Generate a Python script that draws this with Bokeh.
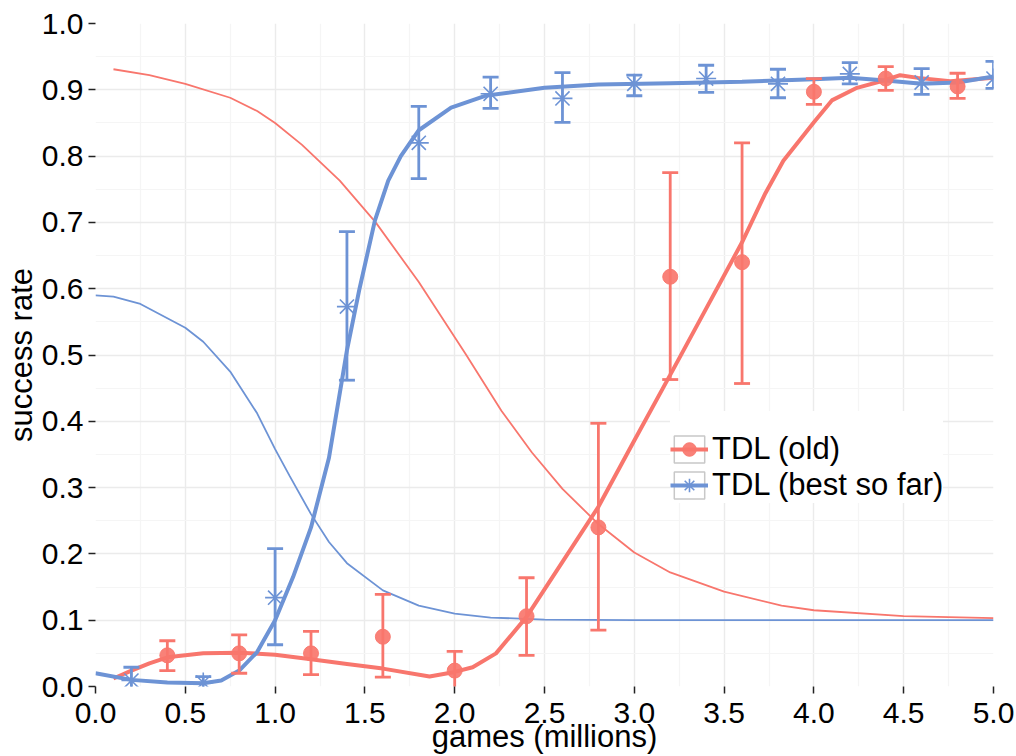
from bokeh.plotting import figure
from bokeh.models import FixedTicker, NumeralTickFormatter, Legend, LegendItem
from bokeh.embed import file_html
from bokeh.resources import INLINE

RED = "#F8766D"
BLUE = "#6D93D5"
FONT = "Liberation Sans"

# TDL (old): success rate per checkpoint with error bar ends
old_x = [0.4, 0.8, 1.2, 1.6, 2.0, 2.4, 2.8, 3.2, 3.6, 4.0, 4.4, 4.8]
old_y = [0.047, 0.050, 0.050, 0.075, 0.024, 0.106, 0.240, 0.618, 0.640, 0.897, 0.917, 0.905]
old_lo = [0.024, 0.020, 0.018, 0.014, -0.005, 0.047, 0.085, 0.463, 0.457, 0.878, 0.899, 0.887]
old_hi = [0.069, 0.078, 0.083, 0.139, 0.053, 0.164, 0.397, 0.775, 0.820, 0.917, 0.935, 0.925]

# TDL (best so far)
best_x = [0.2, 0.6, 1.0, 1.4, 1.8, 2.2, 2.6, 3.0, 3.4, 3.8, 4.2, 4.6, 5.0]
best_y = [0.009, 0.006, 0.134, 0.573, 0.820, 0.894, 0.887, 0.909, 0.917, 0.909, 0.924, 0.911, 0.917]
best_lo = [-0.012, -0.005, 0.063, 0.462, 0.766, 0.872, 0.851, 0.891, 0.896, 0.888, 0.909, 0.893, 0.902]
best_hi = [0.029, 0.015, 0.208, 0.686, 0.875, 0.919, 0.926, 0.922, 0.937, 0.931, 0.941, 0.932, 0.943]

# smoothed trends
old_smooth_x = [0.1, 0.2, 0.3, 0.4, 0.6, 0.8, 1.0, 1.2, 1.4, 1.6, 1.86, 2.0, 2.1, 2.23,
                2.4, 2.6, 2.8, 3.0, 3.2, 3.4, 3.6, 3.73, 3.83, 4.0, 4.1, 4.24, 4.39,
                4.48, 4.58, 4.76, 5.0]
old_smooth_y = [0.012, 0.024, 0.035, 0.044, 0.050, 0.051, 0.048, 0.041, 0.034, 0.027, 0.015,
                0.022, 0.029, 0.050, 0.105, 0.188, 0.271, 0.371, 0.470, 0.570, 0.670, 0.744,
                0.793, 0.851, 0.884, 0.903, 0.914, 0.922, 0.918, 0.913, 0.918]

best_smooth_x = [0.0, 0.2, 0.4, 0.6, 0.7, 0.8, 0.9, 1.0, 1.1, 1.2, 1.3, 1.4, 1.47, 1.556,
                 1.63, 1.7, 1.8, 1.98, 2.17, 2.5, 2.8, 3.2, 3.6, 4.0, 4.2, 4.4, 4.6, 4.8, 5.0]
best_smooth_y = [0.020, 0.010, 0.006, 0.005, 0.009, 0.024, 0.052, 0.100, 0.165, 0.240, 0.345,
                 0.507, 0.600, 0.703, 0.763, 0.800, 0.839, 0.873, 0.891, 0.903, 0.908, 0.910,
                 0.912, 0.916, 0.918, 0.914, 0.909, 0.911, 0.920]

# fitted reference curves (thin)
old_fit_x = [0.1, 0.3, 0.5, 0.75, 0.9, 1.0, 1.15, 1.36, 1.56, 1.8, 2.06, 2.26, 2.43, 2.6,
             2.8, 3.0, 3.2, 3.5, 3.82, 4.0, 4.5, 5.0]
old_fit_y = [0.931, 0.922, 0.909, 0.888, 0.868, 0.850, 0.817, 0.763, 0.700, 0.610, 0.502,
             0.416, 0.353, 0.298, 0.245, 0.202, 0.172, 0.143, 0.122, 0.115, 0.106, 0.103]

best_fit_x = [0.0, 0.1, 0.25, 0.5, 0.6, 0.75, 0.9, 1.0, 1.08, 1.2, 1.3, 1.4, 1.6, 1.8, 2.0,
              2.2, 2.5, 3.0, 4.0, 5.0]
best_fit_y = [0.590, 0.588, 0.577, 0.541, 0.520, 0.475, 0.412, 0.358, 0.318, 0.260, 0.218,
              0.186, 0.145, 0.122, 0.110, 0.104, 0.101, 0.100, 0.100, 0.100]

x_ticks = [0.0, 0.5, 1.0, 1.5, 2.0, 2.5, 3.0, 3.5, 4.0, 4.5, 5.0]
y_ticks = [0.0, 0.1, 0.2, 0.3, 0.4, 0.5, 0.6, 0.7, 0.8, 0.9, 1.0]
x_minor = [(a + b) / 2 for a, b in zip(x_ticks[:-1], x_ticks[1:])]
y_minor = [(a + b) / 2 for a, b in zip(y_ticks[:-1], y_ticks[1:])]

p = figure(width=1016, height=756, x_range=(0, 5), y_range=(0, 1),
           output_backend="svg", toolbar_location=None,
           min_border_left=93, min_border_right=23, min_border_top=23, min_border_bottom=70)
p.outline_line_color = None
p.background_fill_color = "white"
p.border_fill_color = "white"

p.xaxis.ticker = FixedTicker(ticks=x_ticks, minor_ticks=x_minor)
p.yaxis.ticker = FixedTicker(ticks=y_ticks, minor_ticks=y_minor)
for ax in (p.xaxis[0], p.yaxis[0]):
    ax.formatter = NumeralTickFormatter(format="0.0")
    ax.axis_line_color = None
    ax.major_tick_line_color = "#222222"
    ax.major_tick_line_width = 1.5
    ax.major_tick_out = 7
    ax.major_tick_in = 0
    ax.minor_tick_line_color = None
    ax.major_label_text_font = FONT
    ax.major_label_text_font_size = "30px"
    ax.major_label_text_color = "black"
    ax.axis_label_text_font = FONT
    ax.axis_label_text_font_size = "31px"
    ax.axis_label_text_font_style = "normal"
    ax.axis_label_text_color = "black"

p.xaxis.axis_label = "games (millions)"
p.xaxis.major_label_standoff = 9
p.xaxis.axis_label_standoff = -7
p.yaxis.axis_label = "success rate"
p.yaxis.major_label_standoff = 5
p.yaxis.axis_label_standoff = 0

for g in (p.xgrid[0], p.ygrid[0]):
    g.grid_line_color = "#EBEBEB"
    g.grid_line_width = 1.4
    g.minor_grid_line_color = "#F5F5F5"
    g.minor_grid_line_width = 1.2

# thin fitted curves
p.line(old_fit_x, old_fit_y, line_color=RED, line_width=1.8)
p.line(best_fit_x, best_fit_y, line_color=BLUE, line_width=1.8)

# thick smoothed trends
old_line = p.line(old_smooth_x, old_smooth_y, line_color=RED, line_width=4)
best_line = p.line(best_smooth_x, best_smooth_y, line_color=BLUE, line_width=4)

# error bars
p.segment(x0=old_x, y0=old_lo, x1=old_x, y1=old_hi, line_color=RED, line_width=2.8)
p.scatter(old_x + old_x, old_lo + old_hi, marker="dash", size=16, line_color=RED, line_width=2.8)
p.segment(x0=best_x, y0=best_lo, x1=best_x, y1=best_hi, line_color=BLUE, line_width=2.8)
p.scatter(best_x + best_x, best_lo + best_hi, marker="dash", size=16, line_color=BLUE, line_width=2.8)

# points
old_pts = p.scatter(old_x, old_y, marker="circle", size=15, fill_color=RED, line_color=RED,
                    fill_alpha=0.92, line_alpha=0.92)
best_pts = p.scatter(best_x, best_y, marker="asterisk", size=20, line_color=BLUE, line_width=1.6)

# key boxes for the legend
nan = float("nan")
key_box = p.rect(x=[nan], y=[nan], width=1, height=1, fill_color="white",
                 line_color="#C8C8C8", line_width=1.5)

legend = Legend(items=[
    LegendItem(label="TDL (old)", renderers=[key_box, old_line, old_pts]),
    LegendItem(label="TDL (best so far)", renderers=[key_box, best_line, best_pts]),
], location=(575, 183))
legend.background_fill_color = "white"
legend.background_fill_alpha = 1.0
legend.border_line_color = None
legend.label_text_font = FONT
legend.label_text_font_size = "31px"
legend.label_text_color = "black"
legend.glyph_width = 38
legend.glyph_height = 34
legend.label_height = 34
legend.spacing = 0
legend.padding = 4
legend.label_standoff = 4
legend.title = " "
legend.title_text_font_size = "14px"
legend.title_standoff = 4
legend.margin = 0
p.add_layout(legend)

open("out.html", "w").write(file_html(p, INLINE))
